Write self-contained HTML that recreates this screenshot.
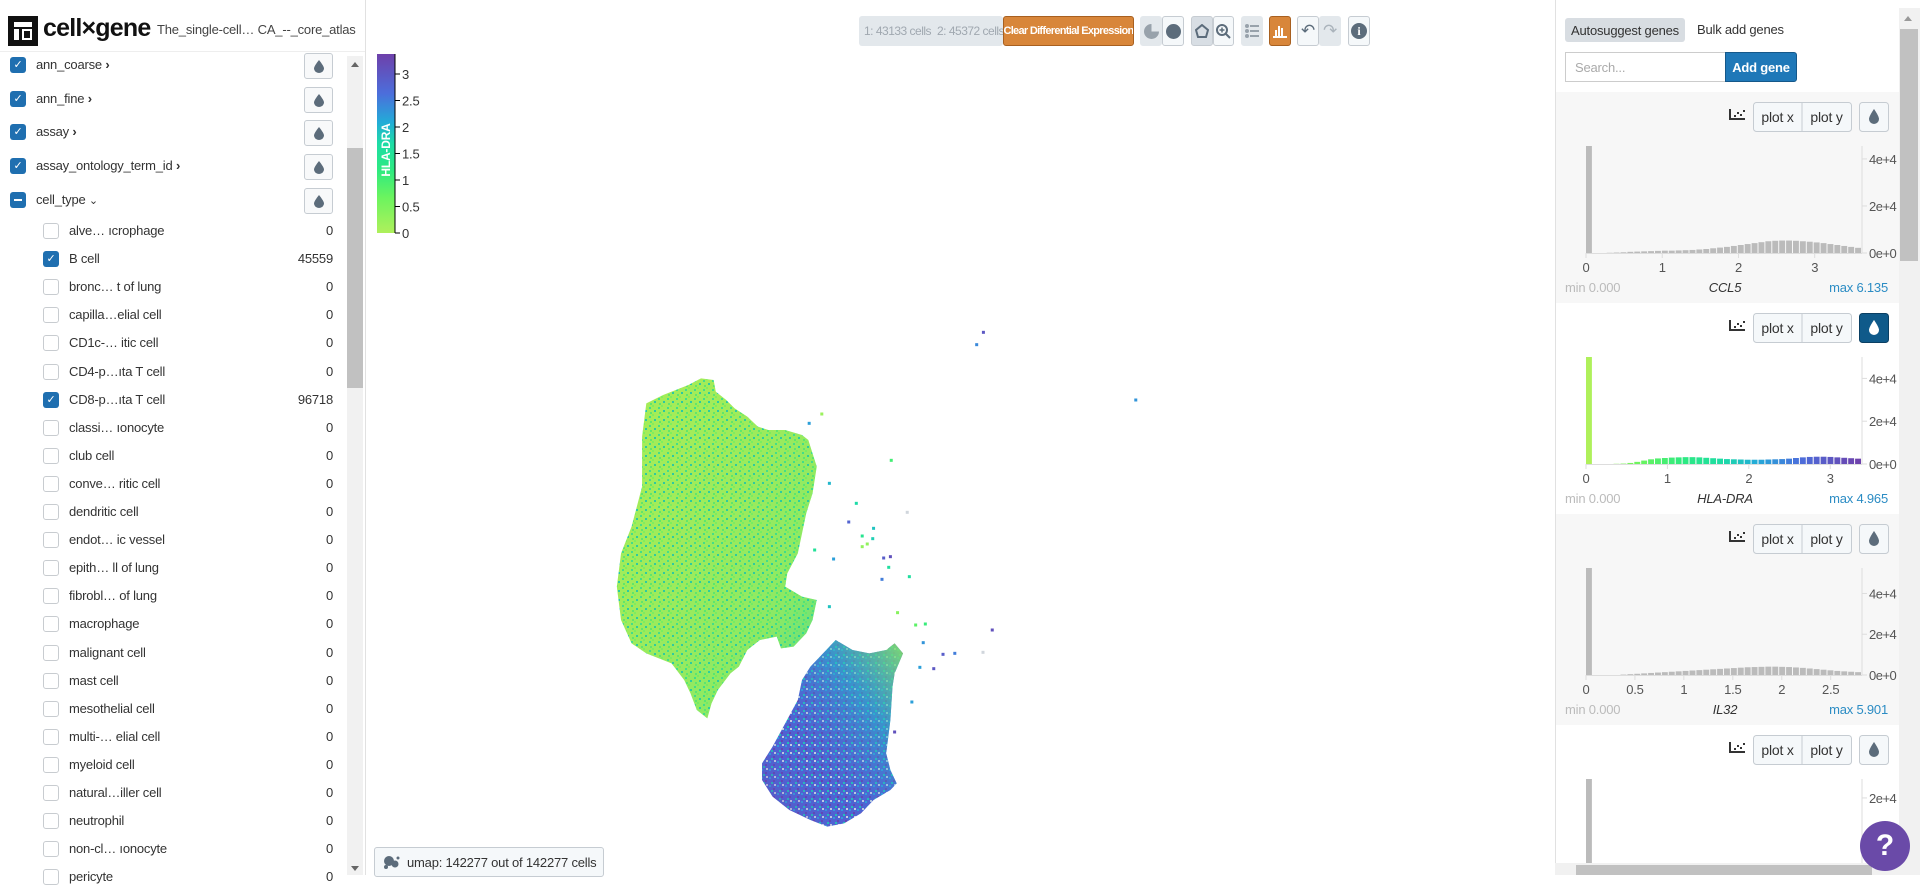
<!DOCTYPE html>
<html><head><meta charset="utf-8">
<style>
*{box-sizing:border-box;margin:0;padding:0}
body{width:1920px;height:875px;overflow:hidden;background:#fff;font-family:"Liberation Sans",sans-serif;color:#333;position:relative;letter-spacing:-0.2px}
.abs{position:absolute}
.btn{position:absolute;border:1px solid #c6ccd2;border-radius:3px;background:#f5f8fa;display:flex;align-items:center;justify-content:center;font-size:13px;color:#333}
.txt{position:absolute;font-size:13px;white-space:nowrap;color:#333}
</style></head><body>

<!-- header -->
<div class="abs" style="left:8px;top:16px;width:30px;height:30px;background:#111">
 <div class="abs" style="left:6px;top:6px;width:18px;height:5px;background:#fff"></div>
 <div class="abs" style="left:6px;top:13px;width:5px;height:11px;background:#fff"></div>
 <div class="abs" style="left:14px;top:13px;width:10px;height:11px;border:2px solid #fff"></div>
</div>
<div class="abs" style="left:43px;top:14px;font-size:25px;font-weight:bold;letter-spacing:-0.8px;color:#111">cell×gene</div>
<div class="abs" style="left:157px;top:22px;font-size:13px;color:#444;white-space:nowrap">The_single-cell… CA_--_core_atlas</div>
<div class="abs" style="left:0;top:51px;width:366px;height:1px;background:#eee"></div>
<div class="abs" style="left:365px;top:0;width:1px;height:875px;background:#e1e1e1"></div>

<!-- left scrollbar -->
<div class="abs" style="left:347px;top:56px;width:16px;height:819px;background:#f1f1f1">
 <div class="abs" style="left:0;top:92px;width:16px;height:240px;background:#c1c1c1"></div>
 <div class="abs" style="left:4px;top:6px;border-left:4px solid transparent;border-right:4px solid transparent;border-bottom:5px solid #666"></div>
 <div class="abs" style="left:4px;top:810px;border-left:4px solid transparent;border-right:4px solid transparent;border-top:5px solid #666"></div>
</div>
<div id="leftlist"></div>

<!-- toolbar -->
<div class="abs" style="left:859px;top:16px;width:144px;height:30px;background:#e3e8ec;border-radius:3px"></div>
<div class="txt" style="left:864px;top:24px;font-size:12px;color:#a0a8b0;letter-spacing:-0.5px">1: 43133 cells</div>
<div class="txt" style="left:937px;top:24px;font-size:12px;color:#a0a8b0;letter-spacing:-0.5px">2: 45372 cells</div>
<div class="abs" style="left:1003px;top:16px;width:131px;height:30px;background:#d8863a;border:1px solid #a86020;border-radius:3px;color:#fff;font-size:11px;font-weight:bold;letter-spacing:-0.7px;white-space:nowrap;overflow:hidden;display:flex;align-items:center;justify-content:center">Clear Differential Expression</div>
<div class="btn" style="left:1140px;top:16px;width:22px;height:30px;background:#e3e8ec;border-color:#e3e8ec"><div style="width:15px;height:15px;border-radius:50%;background:conic-gradient(#e3e8ec 0 25%,#98a2ab 25% 100%)"></div></div>
<div class="btn" style="left:1162px;top:16px;width:22px;height:30px"><div style="width:15px;height:15px;border-radius:50%;background:#5c6c7b"></div></div>
<div class="btn" style="left:1191px;top:16px;width:22px;height:30px;background:#d8dee4"><svg width="14" height="14"><polygon points="7,1 13,6 11,13 3,13 1,6" fill="none" stroke="#5c6c7b" stroke-width="2"/></svg></div>
<div class="btn" style="left:1213px;top:16px;width:21px;height:30px"><svg width="15" height="15"><circle cx="6" cy="6" r="5" fill="none" stroke="#5c6c7b" stroke-width="2"/><line x1="10" y1="10" x2="14" y2="14" stroke="#5c6c7b" stroke-width="2"/><line x1="3.5" y1="6" x2="8.5" y2="6" stroke="#5c6c7b" stroke-width="1.5"/><line x1="6" y1="3.5" x2="6" y2="8.5" stroke="#5c6c7b" stroke-width="1.5"/></svg></div>
<div class="btn" style="left:1241px;top:16px;width:22px;height:30px;background:#e3e8ec;border-color:#e3e8ec"><svg width="14" height="14"><g fill="#98a2ab"><circle cx="2" cy="2" r="2"/><circle cx="2" cy="7" r="2"/><circle cx="2" cy="12" r="2"/><rect x="5" y="1" width="9" height="2"/><rect x="5" y="6" width="9" height="2"/><rect x="5" y="11" width="9" height="2"/></g></svg></div>
<div class="btn" style="left:1269px;top:16px;width:22px;height:30px;background:#d8863a;border-color:#a86020"><svg width="14" height="14"><g fill="#fff"><rect x="2" y="6" width="2" height="6"/><rect x="5" y="2" width="2" height="10"/><rect x="8" y="4" width="2" height="8"/><rect x="0" y="12" width="14" height="2"/></g></svg></div>
<div class="btn" style="left:1297px;top:16px;width:22px;height:30px;font-size:17px;color:#5c6c7b">↶</div>
<div class="btn" style="left:1319px;top:16px;width:22px;height:30px;background:#e3e8ec;border-color:#e3e8ec;font-size:17px;color:#aab3bb">↷</div>
<div class="btn" style="left:1348px;top:16px;width:22px;height:30px"><div style="width:16px;height:16px;border-radius:50%;background:#5c6c7b;color:#fff;font-size:12px;font-weight:bold;text-align:center;line-height:16px;font-family:'Liberation Serif',serif">i</div></div>

<!-- main plot -->
<svg id="plot" class="abs" style="left:0;top:0" width="1555" height="875">
 <defs>
  <linearGradient id="cbar" x1="0" y1="1" x2="0" y2="0">
   <stop offset="0" stop-color="#aff05b"/><stop offset="0.2" stop-color="#6bf45f"/><stop offset="0.35" stop-color="#2eea80"/><stop offset="0.5" stop-color="#1ddca6"/><stop offset="0.62" stop-color="#23abd8"/><stop offset="0.78" stop-color="#4c6edb"/><stop offset="1" stop-color="#6e40aa"/>
  </linearGradient>
  <pattern id="specG" width="9" height="9" patternUnits="userSpaceOnUse"><rect width="9" height="9" fill="#a5ec58"/><rect x="1" y="2" width="2" height="2" fill="#3edc8c"/><rect x="6" y="5" width="2" height="2" fill="#22c7a8"/><rect x="4" y="0" width="2" height="2" fill="#7ff05c"/><rect x="2" y="7" width="2" height="2" fill="#5fe66a"/></pattern>
  <pattern id="specB" width="8" height="8" patternUnits="userSpaceOnUse"><rect width="8" height="8" fill="#4f62d2"/><rect x="1" y="1" width="2" height="2" fill="#2f9fdc"/><rect x="5" y="4" width="2" height="2" fill="#6443b0"/><rect x="3" y="6" width="2" height="2" fill="#22c2b6"/><rect x="6" y="0" width="2" height="2" fill="#c9d2e0"/></pattern>
  <linearGradient id="lowG" x1="1" y1="0" x2="0" y2="1">
   <stop offset="0" stop-color="#8ae860" stop-opacity="0.9"/><stop offset="0.3" stop-color="#2ab8c8" stop-opacity="0.55"/><stop offset="0.65" stop-color="#4c6edb" stop-opacity="0"/><stop offset="1" stop-color="#6e40aa" stop-opacity="0.45"/>
  </linearGradient>
  <linearGradient id="upG" x1="1" y1="1" x2="0" y2="0">
   <stop offset="0" stop-color="#20c9b0" stop-opacity="0.7"/><stop offset="0.25" stop-color="#3de08a" stop-opacity="0.25"/><stop offset="1" stop-color="#a5ec58" stop-opacity="0"/>
  </linearGradient>
 </defs>
 <g id="clusters"></g>
 <g id="outliers"></g>
 <g id="colorbar"></g>
</svg>

<div class="abs" style="left:374px;top:847px;width:230px;height:30px;border:1px solid #c6ccd2;border-radius:3px;background:#f5f8fa;font-size:13px;white-space:nowrap;display:flex;align-items:center;padding-left:8px">
 <svg width="18" height="14" style="margin-right:6px"><g fill="#5c6c7b"><circle cx="6" cy="6" r="5"/><circle cx="12" cy="9" r="3.5"/><circle cx="3" cy="12" r="2"/><circle cx="15" cy="3" r="1.5"/></g></svg>umap: 142277 out of 142277 cells</div>

<!-- right panel -->
<div class="abs" style="left:1555px;top:0;width:1px;height:875px;background:#e1e1e1"></div>
<div class="abs" style="left:1565px;top:18px;width:120px;height:24px;background:#d8dde2;border-radius:3px;font-size:13px;white-space:nowrap;display:flex;align-items:center;justify-content:center">Autosuggest genes</div>
<div class="txt" style="left:1697px;top:22px">Bulk add genes</div>
<div class="abs" style="left:1565px;top:52px;width:161px;height:30px;border:1px solid #ccc;font-size:13px;color:#aaa;padding:7px 9px">Search...</div>
<div class="abs" style="left:1725px;top:52px;width:72px;height:30px;background:#1f78b8;border:1px solid #15588a;border-radius:0 3px 3px 0;color:#fff;font-size:13px;font-weight:bold;white-space:nowrap;display:flex;align-items:center;justify-content:center">Add gene</div>
<svg id="genes" class="abs" style="left:0;top:0" width="1920" height="875"></svg>
<div class="abs" style="left:1899px;top:8px;width:21px;height:855px;background:#f1f1f1">
 <div class="abs" style="left:1px;top:21px;width:18px;height:232px;background:#c1c1c1"></div>
 <div class="abs" style="left:5px;top:8px;border-left:4px solid transparent;border-right:4px solid transparent;border-bottom:5px solid #999"></div>
</div>
<div class="abs" style="left:1555px;top:863px;width:365px;height:12px;background:#f1f1f1">
 <div class="abs" style="left:21px;top:2px;width:296px;height:10px;background:#c1c1c1"></div>
</div>
<div class="abs" style="left:1860px;top:821px;width:50px;height:50px;border-radius:50%;background:#6a4aa8;color:#fff;font-size:30px;font-weight:bold;display:flex;align-items:center;justify-content:center">?</div>

<script>
// ---------- left list data ----------
const categories = ["ann_coarse","ann_fine","assay","assay_ontology_term_id","cell_type"];
const cellTypes = ["alve… ıcrophage","B cell","bronc… t of lung","capilla…elial cell","CD1c-… itic cell","CD4-p…ıta T cell","CD8-p…ıta T cell","classi… ıonocyte","club cell","conve… ritic cell","dendritic cell","endot… ic vessel","epith… ll of lung","fibrobl… of lung","macrophage","malignant cell","mast cell","mesothelial cell","multi-… elial cell","myeloid cell","natural…iller cell","neutrophil","non-cl… ıonocyte","pericyte"];
const cellCounts = [0,45559,0,0,0,0,96718,0,0,0,0,0,0,0,0,0,0,0,0,0,0,0,0,0];
const cellChecked = [0,1,0,0,0,0,1,0,0,0,0,0,0,0,0,0,0,0,0,0,0,0,0,0];

const NS="http://www.w3.org/2000/svg";
const L=document.getElementById('leftlist');
function div(style,html){const d=document.createElement('div');d.className='abs';d.style.cssText=style;if(html!==undefined)d.innerHTML=html;L.appendChild(d);return d;}
const dropSvg=(c)=>'<svg width="12" height="14"><path d="M6 1 C6 1 1 7 1 9.5 A5 4.5 0 0 0 11 9.5 C11 7 6 1 6 1Z" fill="'+c+'"/></svg>';
categories.forEach((c,i)=>{
  const y=65+i*33.7;
  const cb=div('left:10px;top:'+(y-8)+'px;width:16px;height:16px;border-radius:3px;background:#1f6fb0;color:#fff;font-size:11px;text-align:center;line-height:16px', i<4?'✓':'<div style="width:8px;height:2px;background:#fff;margin:7px auto"></div>');
  
  
  const t=div('left:36px;top:'+(y-8)+'px;font-size:13px;white-space:nowrap', c+(i<4?' <b style="font-size:13px">›</b>':' <span style="font-size:11px">⌄</span>'));
  
  
  const b=div('left:304px;top:'+(y-12)+'px;width:29px;height:26px;border:1px solid #c6ccd2;border-radius:3px;background:#f8f9fa;display:flex;align-items:center;justify-content:center', dropSvg('#5c6c7b'));
  
  
});
cellTypes.forEach((c,i)=>{
  const y=231+i*28.1;
  if(y>880) return;
  const on=cellChecked[i];
  const cb=div('left:43px;top:'+(y-8)+'px;width:16px;height:16px;border-radius:3px;'+(on?'background:#1f6fb0;color:#fff;font-size:11px;text-align:center;line-height:16px':'background:#fff;border:1px solid #c8ccd0'), on?'✓':'');
  
  
  const t=div('left:69px;top:'+(y-8)+'px;font-size:13px;white-space:nowrap',c);
  
  
  const n=div('left:270px;width:63px;text-align:right;top:'+(y-8)+'px;font-size:13px',String(cellCounts[i]));
  
  
});

// ---------- scatter data (umap units) ----------
const upperClusterX=[240,270,275,300,320,350,375,400,440,480,495,505,515,505,490,480,470,445,440,480,515,505,490,460,430,420,380,350,330,310,280,265,255,230,215,200,170,110,75,50,40,50,75,100,100,110,150,210];
const upperClusterY=[175,180,215,240,265,290,320,330,330,345,360,400,440,520,580,640,700,760,800,830,840,900,940,980,985,950,960,990,1040,1060,1110,1150,1195,1170,1120,1080,1030,1000,970,900,800,700,620,500,350,250,225,195];
const lowerClusterX=[500,530,560,600,640,680,700,720,700,695,690,680,690,705,690,650,620,580,540,500,450,410,385,385,410,440,470,480];
const lowerClusterY=[1040,1000,960,990,1000,990,970,1000,1060,1100,1200,1300,1350,1390,1410,1440,1480,1510,1520,1500,1470,1430,1380,1330,1280,1210,1140,1080];
const outX=[911,895,1273,527,497,692,609,730,591,650,648,623,635,674,690,555,686,670,735,707,932,910,843,815,773,750,768,760,793,741,700,545,510,545,623];
const outY=[37,74,240,282,310,421,550,577,606,625,656,648,672,714,710,717,742,778,770,878,930,997,1000,1003,912,915,968,1042,1046,1146,1236,490,690,860,680];
const outExpr=[3.0,2.4,2.3,0.2,2.2,1.0,1.7,-1,2.8,1.9,1.8,1.4,0.3,2.9,3.1,2.2,1.6,2.5,1.6,0.4,3.1,-1,2.5,2.9,1.1,0.8,2.3,2.2,3.0,2.2,3.1,2.0,1.5,1.9,0.3];

const xS=u=>600+u/2.376, yS=v=>320+v/3;
const stops=[[0,[175,240,91]],[0.2,[107,244,95]],[0.35,[46,234,128]],[0.5,[29,220,166]],[0.62,[35,171,216]],[0.78,[76,110,219]],[1,[110,64,170]]];
function cmap(v){ if(v<0) return '#d0d6dc'; let t=Math.max(0,Math.min(1,v/3.38));
  for(let i=1;i<stops.length;i++){ if(t<=stops[i][0]){const a=stops[i-1],b=stops[i];const f=(t-a[0])/(b[0]-a[0]);return 'rgb('+a[1].map((c,k)=>Math.round(c+(b[1][k]-c)*f)).join(',')+')';}} return 'rgb(110,64,170)';}

const cl=document.getElementById('clusters');
function poly(xs,ys,fill,name){const p=document.createElementNS(NS,'polygon');p.setAttribute('points',xs.map((x,i)=>xS(x)+','+yS(ys[i])).join(' '));p.setAttribute('fill',fill);
  
  
  cl.appendChild(p);}
poly(upperClusterX,upperClusterY,'url(#specG)','upper-cluster');
poly(upperClusterX,upperClusterY,'url(#upG)','upper-cluster-shade');
poly(lowerClusterX,lowerClusterY,'url(#specB)','lower-cluster');
poly(lowerClusterX,lowerClusterY,'url(#lowG)','lower-cluster-shade');
const og=document.getElementById('outliers');
outX.forEach((x,i)=>{const r=document.createElementNS(NS,'rect');r.setAttribute('x',xS(x)-1.5);r.setAttribute('y',yS(outY[i])-1.5);r.setAttribute('width',3);r.setAttribute('height',3);r.setAttribute('fill',cmap(outExpr[i]));
  
  
  og.appendChild(r);});

// colorbar
const cbTicks=[0,0.5,1,1.5,2,2.5,3];
const cb=document.getElementById('colorbar');
const cbY=v=>233-v*53;
cb.innerHTML='<rect x="377" y="54" width="18" height="179" fill="url(#cbar)"/><line x1="395" y1="54" x2="395" y2="233" stroke="#000"/><text transform="translate(390,150) rotate(-90)" text-anchor="middle" fill="#fff" font-size="12" font-weight="bold" font-family="Liberation Sans,sans-serif">HLA-DRA</text>';
cbTicks.forEach(t=>{const g=document.createElementNS(NS,'g');g.innerHTML='<line x1="395" x2="400" y1="'+cbY(t)+'" y2="'+cbY(t)+'" stroke="#000"/><text x="402" y="'+(cbY(t)+5)+'" font-size="13" fill="#333">'+t+'</text>';
  
  
  cb.appendChild(g);});

// ---------- gene histograms ----------
const geneNames=["CCL5","HLA-DRA","IL32","GENE4"];
const geneMax=["6.135","4.965","5.901",""];
const geneXmax=[3.62,3.39,2.82,3.0];
const geneXstep=[1,1,0.5,1];
const geneColored=[0,1,0,0];
const ccl5Bins=[45.5,0,0,0.1,0.2,0.3,0.5,0.6,0.7,0.8,0.9,1.0,1.0,1.1,1.2,1.3,1.5,1.7,2.0,2.3,2.6,3.0,3.4,3.8,4.2,4.6,5.0,5.2,5.3,5.3,5.2,5.0,4.8,4.5,4.2,3.8,3.4,3.0,2.6,2.2];
const hladraBins=[50,0,0,0,0.1,0.2,0.5,1.0,1.6,2.2,2.6,2.8,3.0,3.1,3.2,3.2,3.1,2.9,2.7,2.5,2.3,2.2,2.1,2.0,2.0,2.0,2.1,2.2,2.3,2.5,2.8,3.1,3.3,3.4,3.4,3.3,3.1,2.9,2.7,2.5];
const il32Bins=[52.5,0,0,0,0,0.2,0.4,0.6,0.8,1.0,1.2,1.4,1.6,1.8,2.0,2.2,2.4,2.6,2.8,3.0,3.2,3.4,3.6,3.8,3.9,4.0,4.1,4.1,4.0,3.9,3.7,3.5,3.2,2.9,2.6,2.3,2.0,1.8,1.6,1.4];
const gene4Bins=[24.3,0,0,0,0,0,0,0,0,0,0,0,0,0,0,0,0,0,0,0,0,0,0,0,0,0,0,0,0,0,0,0,0,0,0,0,0,0,0,0];
const allBins=[ccl5Bins,hladraBins,il32Bins,gene4Bins];

const G=document.getElementById('genes');
function el(tag,attrs,parent,txt){const e=document.createElementNS(NS,tag);for(const k in attrs)e.setAttribute(k,attrs[k]);if(txt!==undefined)e.textContent=txt;(parent||G).appendChild(e);return e;}
allBins.forEach((bins,gi)=>{
  const T=92+gi*211;
  const card=el('g',{'font-family':'Liberation Sans,sans-serif'});
  
  
  el('rect',{x:1556,y:T,width:344,height:Math.min(211,863-T),fill:gi%2?'#ffffff':'#f7f7f7'},card);
  const sc=el('g',{},card);
  
  
  el('path',{d:'M1730 '+(T+17)+' v10 h15',stroke:'#333','stroke-width':2,fill:'none'},sc);
  [[1734,T+23],[1737,T+20],[1740,T+22],[1743,T+18]].forEach(p=>el('rect',{x:p[0],y:p[1],width:2,height:2,fill:'#333'},sc));
  el('rect',{x:1753.5,y:T+10.5,width:98,height:29,rx:3,fill:'#f5f8fa',stroke:'#c6ccd2'},card);
  el('line',{x1:1802,x2:1802,y1:T+11,y2:T+39,stroke:'#c6ccd2'},card);
  const px=el('text',{x:1777.5,y:T+30,'text-anchor':'middle','font-size':14,fill:'#333'},card,'plot x');
  
  
  const py=el('text',{x:1826.5,y:T+30,'text-anchor':'middle','font-size':14,fill:'#333'},card,'plot y');
  
  
  const act=geneColored[gi];
  const db=el('rect',{x:1859.5,y:T+10.5,width:29,height:29,rx:3,fill:act?'#0f5a8a':'#f5f8fa',stroke:act?'#0a3f63':'#c6ccd2'},card);
  
  
  el('path',{d:'M1874 '+(T+17)+' C1874 '+(T+17)+' 1869 '+(T+24)+' 1869 '+(T+27)+' A5 5 0 0 0 1879 '+(T+27)+' C1879 '+(T+24)+' 1874 '+(T+17)+' 1874 '+(T+17)+'Z',fill:act?'#fff':'#5c6c7b'},card);
  const x0=1586,x1=1862,base=T+161,H=107;
  const ymax=Math.max(...bins);
  const xs=v=>x0+(v/geneXmax[gi])*(x1-x0);
  const ys=v=>base-(v/ymax)*H;
  const bw=(x1-x0)/bins.length;
  const clipB=v=>Math.min(v,863);
  el('line',{x1:x1,x2:x1,y1:T+54,y2:clipB(base),stroke:'#ddd'},card);
  if(base<863) el('line',{x1:x0,x2:x1,y1:base+0.5,y2:base+0.5,stroke:'#ddd'},card);
  bins.forEach((v,i)=>{ if(v<=0) return;
    const val=(i+0.5)*geneXmax[gi]/bins.length;
    const top=ys(v); if(top>863) return;
    const r=el('rect',{x:x0+i*bw,y:top,width:bw-1,height:clipB(base)-top,fill:geneColored[gi]?cmap(i===0?0:val):'#bbbbbb'},card);
    
    
  });
  [0,20,40].forEach(t=>{ if(t>ymax) return; const y=ys(t); if(y>860) return;
    el('line',{x1:x1,x2:x1+5,y1:y,y2:y,stroke:'#ddd'},card);
    const tl=el('text',{x:x1+7,y:y+5,'font-size':13,'letter-spacing':'-0.5',fill:'#555'},card,(t/10)+'e+'+(t?4:0));
    
    
  });
  for(let t=0;t<=geneXmax[gi]+1e-9;t+=geneXstep[gi]){
    if(base+20>860) break;
    el('line',{x1:xs(t),x2:xs(t),y1:base,y2:base+5,stroke:'#ddd'},card);
    const tl=el('text',{x:xs(t),y:base+19,'text-anchor':'middle','font-size':13,fill:'#555'},card,String(Math.round(t*10)/10));
    
    
  }
  if(T+200<860){
    el('text',{x:1565,y:T+200,'font-size':13,fill:'#bbb'},card,'min 0.000');
    const gn=el('text',{x:1725,y:T+200,'text-anchor':'middle','font-size':13,'font-style':'italic',fill:'#333'},card,geneNames[gi]);
    
    
    el('text',{x:1888,y:T+200,'text-anchor':'end','font-size':13,fill:'#2b8cc4'},card,'max '+geneMax[gi]);
  }
});
</script>
</body></html>
